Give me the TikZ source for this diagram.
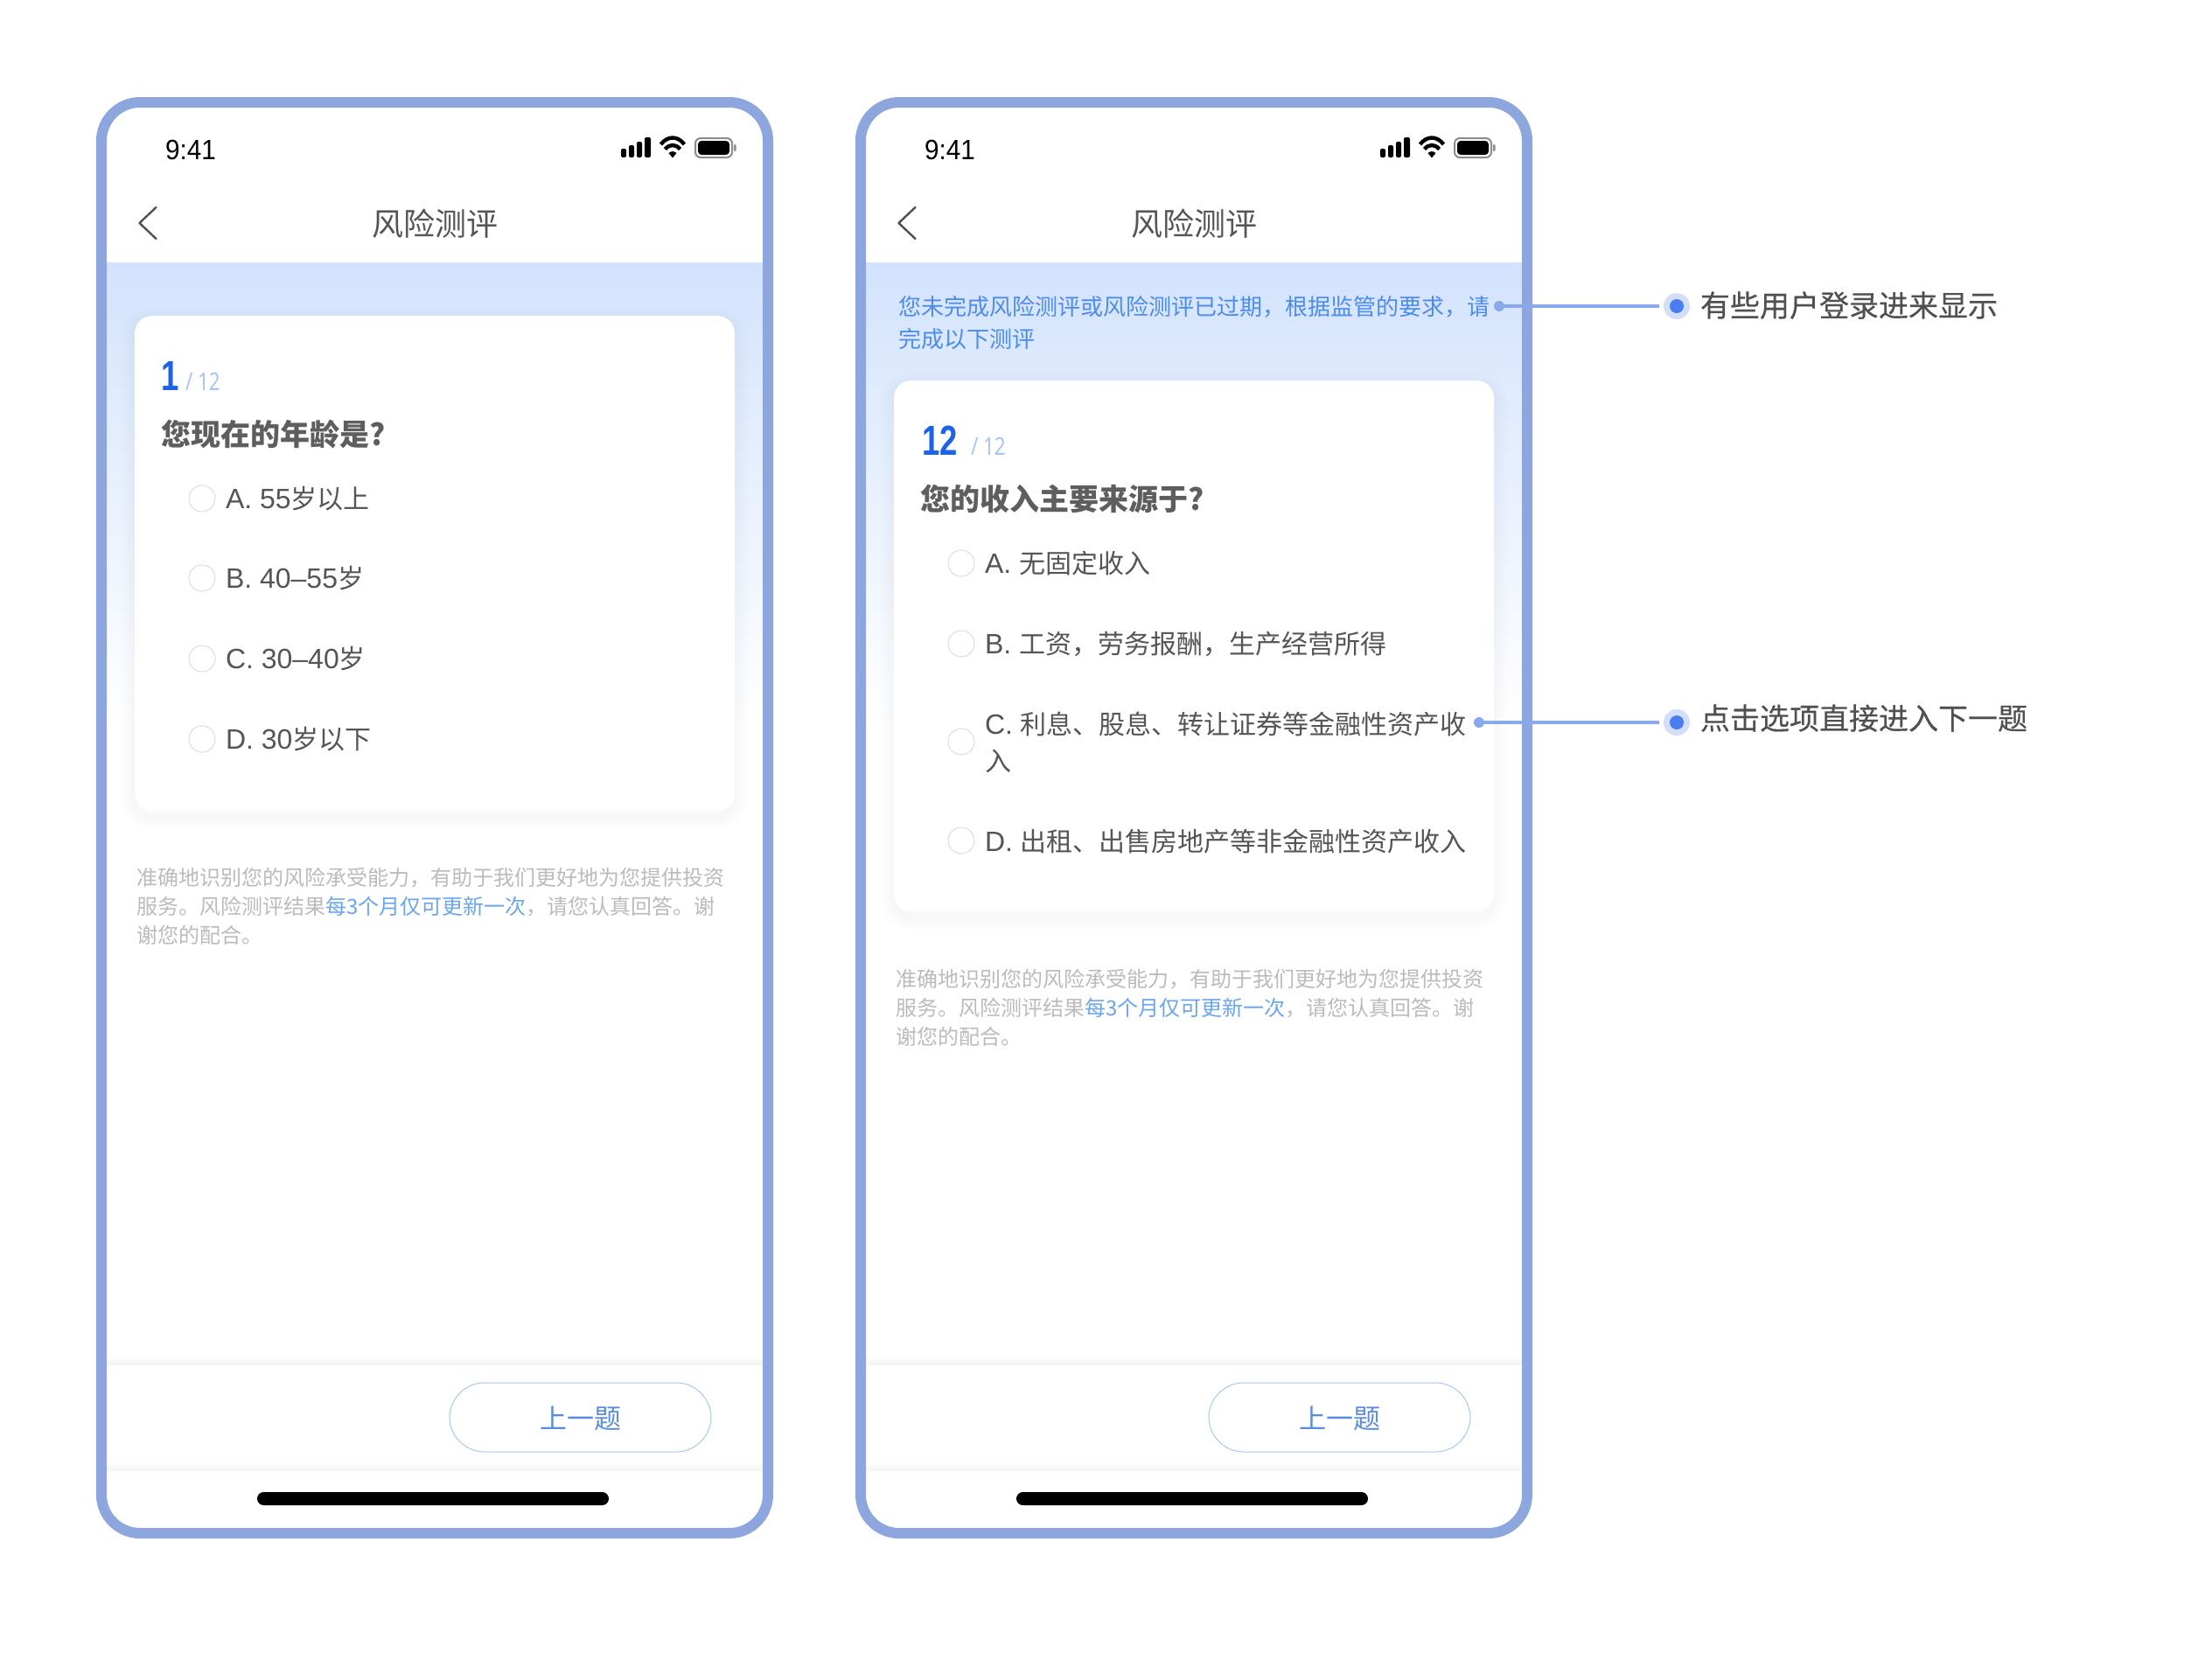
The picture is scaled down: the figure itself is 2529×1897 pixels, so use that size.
\documentclass[tikz,border=0pt]{standalone}
\usepackage{fontspec}
\setmainfont{Noto Sans CJK SC}
\newfontfamily\timefont[FakeStretch=0.93]{Liberation Sans}
\newfontfamily\latinf{Liberation Sans}
\newfontfamily\numfont[FakeStretch=0.76]{Liberation Sans}
\newfontfamily\numlite[FakeStretch=0.8]{Noto Sans}
\newfontfamily\notef[FakeBold=0.3]{Noto Sans CJK SC}
\newcommand{\lat}[1]{{\latinf\fontsize{16pt}{16pt}\selectfont #1}}
\definecolor{framec}{HTML}{8DA6DD}
\definecolor{bandc}{HTML}{D3E3FD}
\definecolor{inkc}{HTML}{555555}
\definecolor{questionc}{HTML}{5E5E5E}
\definecolor{darkink}{HTML}{505050}
\definecolor{mutedc}{HTML}{BBBBBB}
\definecolor{linkc}{HTML}{6AA5F0}
\definecolor{noticec}{HTML}{4C8CEE}
\definecolor{numc}{HTML}{1E62E8}
\definecolor{numlight}{HTML}{A9C4F5}
\definecolor{radioc}{HTML}{DDDDDD}
\definecolor{btnline}{HTML}{A9C8F0}
\definecolor{btntext}{HTML}{5B8BDF}
\definecolor{leaderc}{HTML}{89A9EC}
\definecolor{ringc}{HTML}{D3DEFB}
\definecolor{corec}{HTML}{4A7DF0}
\definecolor{sepc}{HTML}{F4F4F4}
\tikzset{
  txtbase/.style={inner sep=0pt,outer sep=0pt,anchor=base west},
  timetxt/.style={txtbase,text=black,font=\timefont\fontsize{16pt}{16pt}\selectfont},
  titletxt/.style={txtbase,anchor=base,text=inkc,font=\fontsize{18pt}{18pt}\selectfont},
  bignum/.style={txtbase,text=numc,font=\numfont\bfseries\fontsize{24pt}{24pt}\selectfont},
  smallnum/.style={txtbase,text=numlight,font=\numlite\fontsize{14pt}{14pt}\selectfont},
  questiontxt/.style={txtbase,text=questionc,font=\bfseries\fontsize{17pt}{17pt}\selectfont},
  optiontxt/.style={txtbase,text=inkc,font=\fontsize{15pt}{15pt}\selectfont},
  finetxt/.style={txtbase,text=mutedc,font=\fontsize{12pt}{12pt}\selectfont},
  noticetxt/.style={txtbase,text=noticec,font=\fontsize{13pt}{13pt}\selectfont},
  notetxt/.style={txtbase,text=darkink,font=\notef\fontsize{17pt}{17pt}\selectfont},
  btntxt/.style={txtbase,anchor=base,text=btntext,font=\fontsize{15.5pt}{15.5pt}\selectfont},
  radio/.style={circle,draw=radioc,fill=white,line width=.5pt,minimum size=15pt,inner sep=0pt},
  dotstart/.style={circle,fill=leaderc,minimum size=6pt,inner sep=0pt},
  dotring/.style={circle,fill=ringc,minimum size=15pt,inner sep=0pt},
  dotcore/.style={circle,fill=corec,minimum size=8pt,inner sep=0pt},
  leader/.style={leaderc,line width=2.3pt},
  btnstyle/.style={draw=btnline,fill=white,line width=.5pt,rounded corners=20pt},
  homebar/.style={fill=black,rounded corners=3.7pt},
  framestyle/.style={draw=framec,line width=6pt,rounded corners=22pt},
}
% common phone chrome: #1 is the name prefix
\newcommand{\phonechrome}[1]{%
  \fill[white,rounded corners=22pt] (116,117) rectangle (878,1753);
  \shade[top color=bandc,bottom color=white] (122,300) rectangle (872,830);
  \shade[top color=white,bottom color=sepc] (122,1550) rectangle (872,1560);
  \shade[top color=white,bottom color=sepc] (122,1671) rectangle (872,1681);
  \draw[framestyle] (116,117) rectangle (878,1753);
  \node[timetxt] (#1time) at (189,182) {9:41};
  \fill[black,rounded corners=1pt] (710,170) rectangle (716,180);
  \fill[black,rounded corners=1pt] (719,166) rectangle (725,180);
  \fill[black,rounded corners=1pt] (728,162) rectangle (734,180);
  \fill[black,rounded corners=1pt] (737,157) rectangle (744,180);
  \draw[black,line width=2.2pt] (755.5,165) .. controls (763.5,155) and (774.5,155) .. (782.5,165);
  \draw[black,line width=2.2pt] (760.5,170.5) .. controls (765.5,164.5) and (772.5,164.5) .. (777.5,170.5);
  \fill[black] (764.5,175) .. controls (767.5,172.5) and (770.5,172.5) .. (773.5,175) -- (769,180.5) -- cycle;
  \draw[black!45,line width=1pt,rounded corners=3pt] (795,158) rectangle (837,180);
  \fill[black,rounded corners=2pt] (798,161) rectangle (834,177);
  \fill[black!45,rounded corners=.6pt] (839,165) rectangle (841.5,173);
  \draw[darkink,line width=1.2pt,line cap=round,line join=round] (178.5,237) -- (159.5,255) -- (178.5,273);
  \node[titletxt] (#1title) at (497,269) {风险测评};
  \draw[btnstyle] (514,1581) rectangle (813,1660);
  \node[btntxt] (#1btn) at (664,1633) {上一题};
  \fill[homebar] (294,1706) rectangle (696,1721);
}
% soft card: #1 top, #2 bottom
\newcommand{\softcard}[2]{%
  \foreach \w in {4,8,12,16,20,24,28,32}{
    \draw[black,opacity=.003,line width=\w*.5pt,rounded corners=10pt] (154,#1+6) rectangle (840,#2+6);
  }
  \fill[white,rounded corners=10pt] (154,#1) rectangle (840,#2);
}
\newcommand{\finelines}[2]{%
  \node[finetxt] (#1fa) at (156,#2) {准确地识别您的风险承受能力，有助于我们更好地为您提供投资};
  \node[finetxt] (#1fb) at (156,#2+33) {服务。风险测评结果{\color{linkc}每3个月仅可更新一次}，请您认真回答。谢};
  \node[finetxt] (#1fc) at (156,#2+66) {谢您的配合。};
}
\begin{document}
\begin{tikzpicture}[x=.5pt,y=-.5pt]
\useasboundingbox (0,0) rectangle (2529,1897);
\fill[white] (0,0) rectangle (2529,1897);

% left phone
\begin{scope}
  \phonechrome{a}
  \softcard{361}{927}
  \node[bignum] (anum) at (184,446) {1};
  \node[smallnum] (atot) at (212,446) {/ 12};
  \node[questiontxt] (aq) at (184,509) {您现在的年龄是?};
  \node[radio] (ara) at (231,570) {};
  \node[optiontxt] (aoa) at (258,581) {\lat{A. 55}岁以上};
  \node[radio] (arb) at (231,661) {};
  \node[optiontxt] (aob) at (258,672) {\lat{B. 40–55}岁};
  \node[radio] (arc) at (231,753) {};
  \node[optiontxt] (aoc) at (258,764) {\lat{C. 30–40}岁};
  \node[radio] (ard) at (231,845) {};
  \node[optiontxt] (aod) at (258,856) {\lat{D. 30}岁以下};
  \finelines{a}{1012}
\end{scope}

% right phone
\begin{scope}[xshift=434pt]
  \phonechrome{b}
  \softcard{435}{1042}
  \node[noticetxt] (bna) at (159,360) {您未完成风险测评或风险测评已过期，根据监管的要求，请};
  \node[noticetxt] (bnb) at (159,397) {完成以下测评};
  \node[bignum] (bnum) at (186,520) {12};
  \node[smallnum] (btot) at (242,520) {/ 12};
  \node[questiontxt] (bq) at (184,583) {您的收入主要来源于?};
  \node[radio] (bra) at (231,644) {};
  \node[optiontxt] (boa) at (258,655) {\lat{A. }无固定收入};
  \node[radio] (brb) at (231,736) {};
  \node[optiontxt] (bob) at (258,747) {\lat{B. }工资，劳务报酬，生产经营所得};
  \node[radio] (brc) at (231,848) {};
  \node[optiontxt] (boc) at (258,839) {\lat{C. }利息、股息、转让证券等金融性资产收};
  \node[optiontxt] (bod) at (258,881) {入};
  \node[radio] (brd) at (231,961) {};
  \node[optiontxt] (boe) at (258,973) {\lat{D. }出租、出售房地产等非金融性资产收入};
  \finelines{b}{1128}
\end{scope}

% annotations
\node[dotstart] (s1) at (1714,350) {};
\node[dotstart] (s2) at (1691,826) {};
\node[dotring] (r1) at (1917,350) {};
\node[dotring] (r2) at (1917,826) {};
\node[dotcore] (c1) at (1917,350) {};
\node[dotcore] (c2) at (1917,826) {};
\coordinate (e1) at (1897,350);
\coordinate (e2) at (1897,826);
\draw[leader] (s1) -- (e1);
\draw[leader] (s2) -- (e2);
\node[notetxt] (n1) at (1944,362) {有些用户登录进来显示};
\node[notetxt] (n2) at (1944,834) {点击选项直接进入下一题};
\end{tikzpicture}
\end{document}
